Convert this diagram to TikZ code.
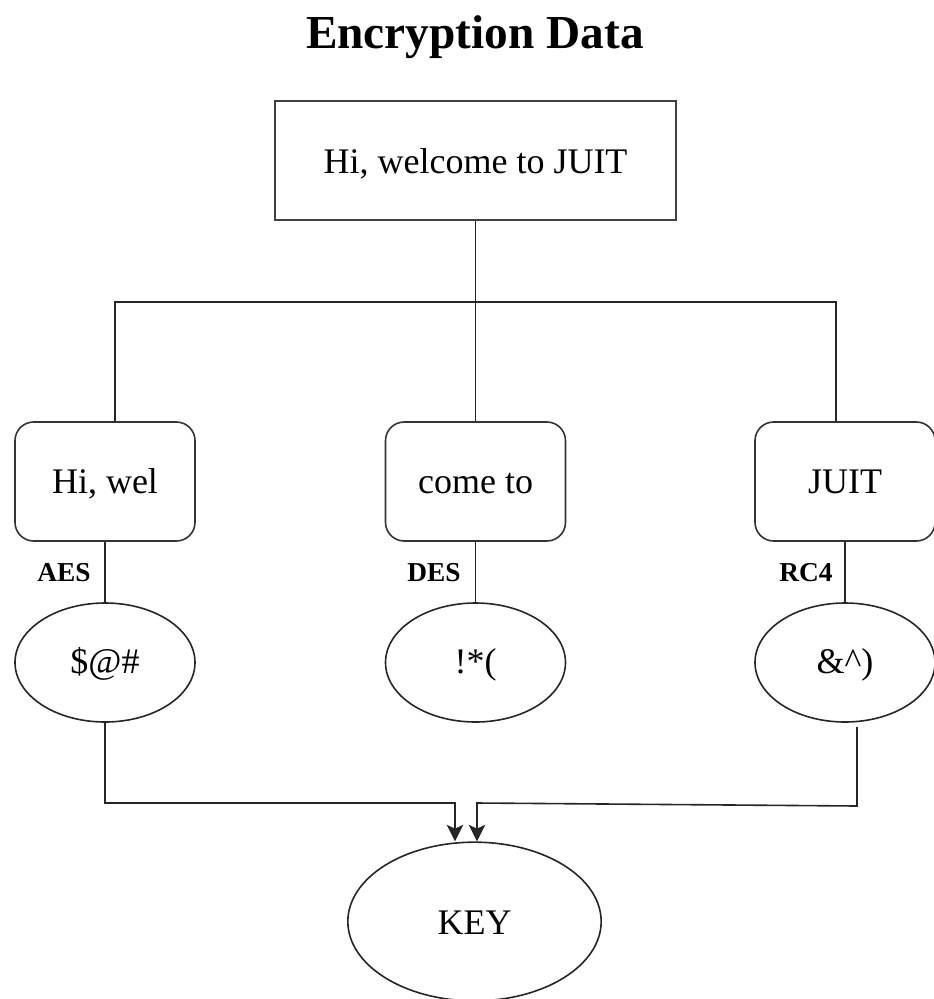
\documentclass[tikz,border=0pt]{standalone}
\usepackage{fontspec}
\setmainfont{Liberation Serif}
\usetikzlibrary{shapes.geometric,arrows.meta}

\tikzset{
  wire/.style={draw=black!85, line width=1.2pt},
  arrowwire/.style={wire, -{Stealth[length=12.5pt,width=12.5pt,inset=3pt]}},
  bodytext/.style={font=\fontsize{27}{30}\selectfont, text height=#1, text depth=0pt},
  bodytext/.default=17.7pt,
  plainbox/.style={bodytext=20.2pt, draw=black!75, line width=1.2pt, minimum width=300.75pt,
    minimum height=89.25pt, inner sep=0pt},
  partbox/.style={bodytext=17.7pt, draw=black!80, line width=1.2pt, rounded corners=14pt,
    minimum width=135pt, minimum height=89.25pt, inner sep=0pt},
  cipher/.style={bodytext=17.2pt, ellipse, draw=black!85, line width=1.2pt, minimum width=135pt,
    minimum height=89.25pt, inner sep=0pt},
  algo/.style={font=\bfseries\fontsize{20.5}{23}\selectfont, inner sep=0pt},
  heading/.style={font=\bfseries\fontsize{35.5}{40}\selectfont, inner sep=0pt}
}

\begin{document}
\begin{tikzpicture}[x=0.75pt, y=-0.75pt]
  \useasboundingbox (0,0) rectangle (933,999);

  % title
  \node[heading] (title) at (475,37) {Encryption Data};

  % plain text
  \node[plainbox] (msg) at (475.5,160.5) {Hi, welcome to JUIT};

  % plain text split into three parts
  \node[partbox] (p1) at (105,481.5) {Hi, wel};
  \node[partbox] (p2) at (475.5,481.5) {come to};
  \node[partbox] (p3) at (845,481.5) {JUIT};

  % encrypted parts
  \node[cipher] (c1) at (105,662.5) {\$@\#};
  \node[cipher] (c2) at (475.5,662.5) {!*(};
  \node[cipher] (c3) at (845,662.5) {\&\textasciicircum)};

  % algorithm labels
  \node[algo] (aes) at (64,573) {AES};
  \node[algo] (des) at (434,573) {DES};
  \node[algo] (rc4) at (806,573) {RC4};

  % key
  \node[bodytext=18.8pt, ellipse, draw=black!85, line width=1.2pt, minimum width=190pt,
    minimum height=119pt, inner sep=0pt] (key) at (474.5,921.5) {KEY};

  % distribution bus
  \coordinate (busL) at (115,302);
  \coordinate (busR) at (836,302);
  \draw[wire] (p1.north -| busL) -- (busL) -- (busR) -- (p3.north -| busR);
  \draw[wire] (msg.south) -- (p2.north);

  % encryption links
  \draw[wire] (p1.south) -- (c1.north);
  \draw[wire] (p2.south) -- (c2.north);
  \draw[wire] (p3.south) -- (c3.north);

  % cipher parts joined into the key
  \coordinate (jL) at (455,803);
  \coordinate (rStart) at (857,727);
  \coordinate (rCorner) at (857,806);
  \coordinate (jR) at (477,803);
  \draw[arrowwire] (c1.south) |- (jL) -- (jL |- key.north);
  \draw[arrowwire] (rStart) -- (rCorner) -- (jR) -- (jR |- key.north);
\end{tikzpicture}
\end{document}
